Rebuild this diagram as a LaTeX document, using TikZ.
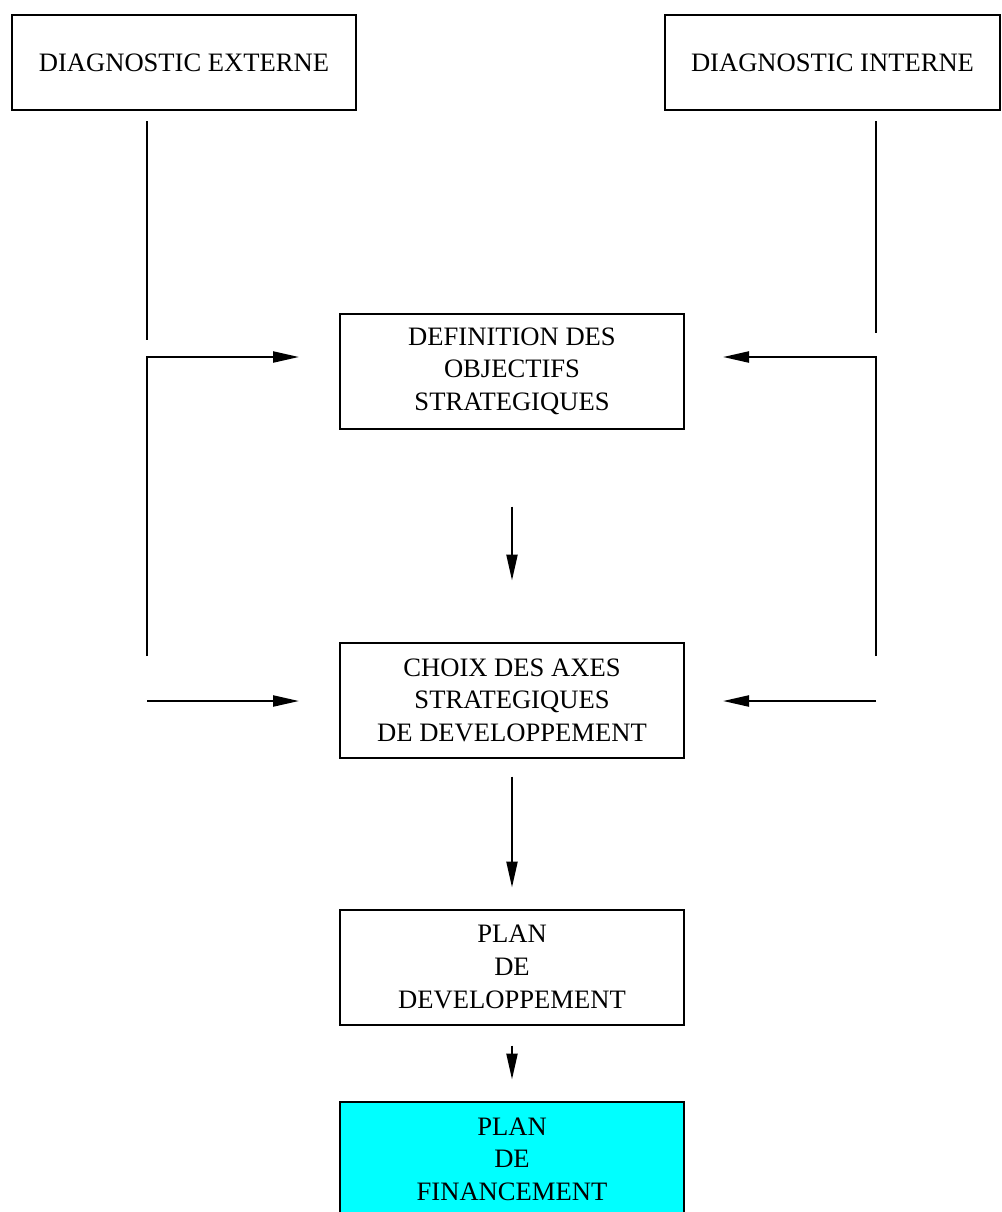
\documentclass[tikz,border=0pt]{standalone}
\usepackage{fontspec}
\setmainfont{Liberation Serif}
\usetikzlibrary{positioning,arrows.meta}
\definecolor{cyanvif}{RGB}{0,255,255}
\tikzset{
  diag/.style={rectangle, minimum height=47.5pt, text centered, draw=black, line width=1pt, fill=white},
  etape/.style={rectangle, minimum width=172pt, minimum height=57.5pt, align=center, draw=black, line width=1pt, fill=white},
  fin/.style={etape, fill=cyanvif},
  trait/.style={line width=1.1pt},
  fleche/.style={line width=1.1pt, -{Triangle[length=13pt,width=5.5pt]}},
  node distance=7mm
}
\begin{document}
\begin{tikzpicture}[x=0.5pt, y=-0.5pt, font=\fontsize{13.3}{16.3}\selectfont]
	\useasboundingbox (0,0) rectangle (1002,1212);
	\node[diag, minimum width=172pt] (ext) at (184,62.5) {DIAGNOSTIC EXTERNE};
	\node[diag, minimum width=167.5pt] (int) at (832.5,62.5) {DIAGNOSTIC INTERNE};
	\node[etape] (def) at (512,371) {DEFINITION DES\\OBJECTIFS\\STRATEGIQUES};
	\node[etape, below=106pt of def] (choix) {CHOIX DES AXES\\STRATEGIQUES\\DE DEVELOPPEMENT};
	\node[etape, below=75pt of choix] (pdev) {PLAN\\DE\\DEVELOPPEMENT};
	\node[fin, below=37.5pt of pdev] (pfin) {PLAN\\DE\\FINANCEMENT};
	%
	\coordinate (ext-bas) at (147,121);
	\coordinate (ext-fin) at (147,340);
	\coordinate (g-haut) at (147,357);
	\coordinate (g-bas) at (147,656);
	\coordinate (g-choix) at (147,701);
	\coordinate (int-bas) at (876,121);
	\coordinate (int-fin) at (876,333);
	\coordinate (d-haut) at (876,357);
	\coordinate (d-bas) at (876,656);
	\coordinate (d-choix) at (876,701);
	%
	\draw[trait] (ext-bas) -- (ext-fin);
	\draw[trait] (int-bas) -- (int-fin);
	\draw[fleche, shorten >=20pt] (g-bas) -- (g-haut) -- (def.west |- g-haut);
	\draw[fleche, shorten >=19pt] (d-bas) -- (d-haut) -- (def.east |- d-haut);
	\draw[fleche, shorten >=20pt] (g-choix) -- (choix.west |- g-choix);
	\draw[fleche, shorten >=19pt] (d-choix) -- (choix.east |- d-choix);
	%
	\draw[fleche, shorten <=38.5pt, shorten >=30.5pt] (def) -- (choix);
	\draw[fleche, shorten <=9pt, shorten >=10.5pt] (choix) -- (pdev);
	\draw[fleche, shorten <=10pt, shorten >=10.5pt] (pdev) -- (pfin);
\end{tikzpicture}
\end{document}
